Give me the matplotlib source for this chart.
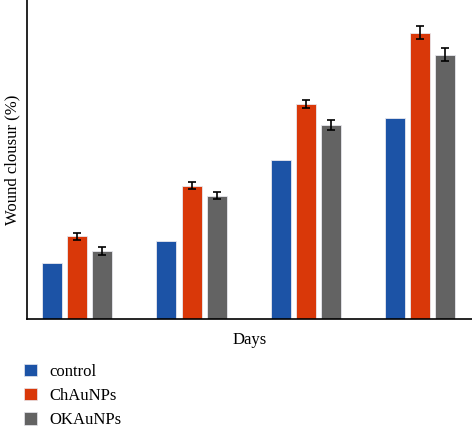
import matplotlib

matplotlib.use("Agg")
import matplotlib.pyplot as plt
import numpy as np
from matplotlib.patches import Patch

plt.rcParams["font.family"] = ["Liberation Serif", "DejaVu Serif"]

SERIES = ["control", "ChAuNPs", "OKAuNPs"]
COLORS = ["#1c53a6", "#d93809", "#636363"]
CONTROL = [17.6, 24.5, 49.8, 63.0]
CHAUNPS = [26.0, 41.7, 67.4, 89.7]
OKAUNPS = [21.3, 38.6, 60.8, 82.8]
CHAU_ERR = [1.1, 1.1, 1.4, 2.0]
OKAU_ERR = [1.2, 1.1, 1.6, 2.0]


def main() -> None:
    fig = plt.figure(figsize=(4.72, 4.30), dpi=100)
    ax = fig.add_axes([27 / 472, 111 / 430, 1 - 27 / 472, 319 / 430])

    x = np.arange(len(CONTROL))
    w, step = 0.175, 0.22
    values = [CONTROL, CHAUNPS, OKAUNPS]
    errs = [None, CHAU_ERR, OKAU_ERR]
    for i, (vals, err, c) in enumerate(zip(values, errs, COLORS)):
        ax.bar(x + (i - 1) * step, vals, w, color=c, edgecolor="#e8e8ee",
               linewidth=0.6, yerr=err, capsize=3,
               error_kw=dict(elinewidth=1.2, capthick=1.2, ecolor="black"))

    ax.set_xlim(-0.44, 3.455)
    ax.set_ylim(0, 100)
    ax.set_xticks([])
    ax.set_yticks([])
    for s in ("top", "right"):
        ax.spines[s].set_visible(False)
    ax.spines["left"].set_linewidth(1.2)
    ax.spines["bottom"].set_linewidth(1.2)
    ax.set_ylabel("Wound clousur (%)", fontsize=12, labelpad=5)
    ax.set_xlabel("Days", fontsize=12, labelpad=9)

    handles = [Patch(facecolor=c, edgecolor="#e8e8ee", linewidth=0.5) for c in COLORS]
    fig.legend(handles, SERIES, loc="upper left", bbox_to_anchor=(0.037, 0.17),
               frameon=False, fontsize=12, handlelength=0.75, handleheight=0.75,
               handletextpad=0.75, labelspacing=0.5, borderaxespad=0)

    fig.savefig("out.png", dpi=100)


if __name__ == "__main__":
    main()
